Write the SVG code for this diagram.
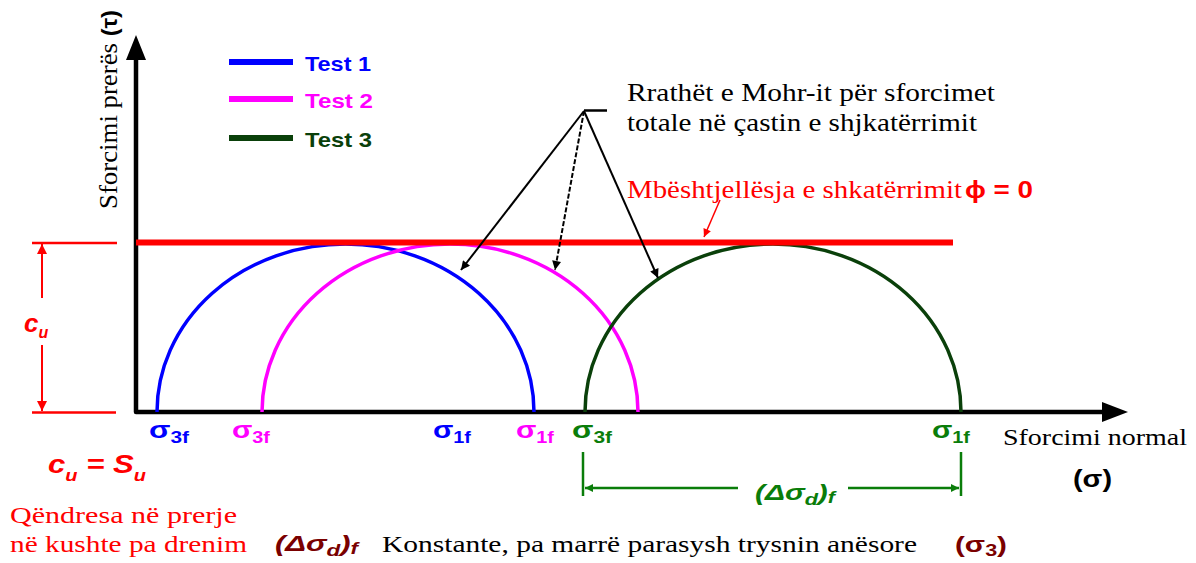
<svg xmlns="http://www.w3.org/2000/svg" width="1196" height="563" viewBox="0 0 1196 563">
<style>
text{font-family:"Liberation Sans",Arial,sans-serif;}
text.tm{font-family:"Liberation Serif","Times New Roman",serif;}
.ar{font-weight:bold;}
.it{font-style:italic;}
.red{fill:#ff0000;}
.blu{fill:#0000ff;}
.mag{fill:#ff00ff;}
.grn{fill:#0a7d0a;}
.dgr{fill:#0a400a;}
.drd{fill:#7a0000;}
.blk{fill:#000;}
.sub{font-size:16px;}
</style>
<defs>
<marker id="mb" viewBox="0 0 10 10" refX="10" refY="5" markerWidth="13" markerHeight="9" markerUnits="userSpaceOnUse" orient="auto"><path d="M0,0 L10,5 L0,10 z" fill="#000"/></marker>
<marker id="mr" viewBox="0 0 10 10" refX="10" refY="5" markerWidth="10" markerHeight="8" markerUnits="userSpaceOnUse" orient="auto"><path d="M0,0 L10,5 L0,10 z" fill="#ff0000"/></marker>
<marker id="mr2" viewBox="0 0 10 10" refX="10" refY="5" markerWidth="16" markerHeight="10" markerUnits="userSpaceOnUse" orient="auto"><path d="M0,0 L10,5 L0,10 z" fill="#ff0000"/></marker>
<marker id="mg" viewBox="0 0 10 10" refX="10" refY="5" markerWidth="12" markerHeight="8" markerUnits="userSpaceOnUse" orient="auto"><path d="M0,0 L10,5 L0,10 z" fill="#0a7d0a"/></marker>
</defs>
<rect width="1196" height="563" fill="#fff"/>

<g id="axes">
<path d="M136,58 L136,412 L1106,412" fill="none" stroke="#000" stroke-width="4.5" stroke-linejoin="round"/>
<polygon points="136,35 126,60 146,60" fill="#000"/>
<polygon points="1128,412 1102,402 1102,422" fill="#000"/>
<text class="tm blk" font-size="25" transform="translate(117,209) rotate(-90)" textLength="199" lengthAdjust="spacingAndGlyphs">Sforcimi prerës <tspan class="ar" style="font-family:'Liberation Sans',Arial,sans-serif" font-size="22">(τ)</tspan></text>
<text class="tm blk" x="1003" y="445" font-size="24" textLength="184" lengthAdjust="spacingAndGlyphs">Sforcimi normal</text>
<text class="ar blk" x="1073" y="487" font-size="24" textLength="39" lengthAdjust="spacingAndGlyphs">(σ)</text>
</g>

<g id="legend">
<line x1="229" y1="62" x2="293" y2="62" stroke="#0000ff" stroke-width="6"/>
<line x1="229" y1="99" x2="293" y2="99" stroke="#ff00ff" stroke-width="6"/>
<line x1="229" y1="138" x2="293" y2="138" stroke="#0a400a" stroke-width="6"/>
<text class="ar blu" x="305" y="71" font-size="21" textLength="66" lengthAdjust="spacingAndGlyphs">Test 1</text>
<text class="ar mag" x="305" y="108" font-size="21" textLength="68" lengthAdjust="spacingAndGlyphs">Test 2</text>
<text class="ar dgr" x="305" y="147" font-size="21" textLength="67" lengthAdjust="spacingAndGlyphs">Test 3</text>
</g>

<g id="circle-test1">
<path d="M157,412 A188.5,168 0 0 1 534,412" fill="none" stroke="#0000ff" stroke-width="3.5"/>
<text class="ar blu" x="149" y="438" font-size="24" textLength="40" lengthAdjust="spacingAndGlyphs">σ<tspan class="sub" dy="5">3f</tspan></text>
<text class="ar blu" x="433" y="438" font-size="24" textLength="38" lengthAdjust="spacingAndGlyphs">σ<tspan class="sub" dy="5">1f</tspan></text>
</g>

<g id="circle-test2">
<path d="M262,412 A188,168 0 0 1 638,412" fill="none" stroke="#ff00ff" stroke-width="3.5"/>
<text class="ar mag" x="232" y="438" font-size="24" textLength="38" lengthAdjust="spacingAndGlyphs">σ<tspan class="sub" dy="5">3f</tspan></text>
<text class="ar mag" x="516" y="438" font-size="24" textLength="38" lengthAdjust="spacingAndGlyphs">σ<tspan class="sub" dy="5">1f</tspan></text>
</g>

<g id="circle-test3">
<path d="M585,412 A188,168 0 0 1 961,412" fill="none" stroke="#0a400a" stroke-width="3.5"/>
<text class="ar grn" x="572" y="438" font-size="24" textLength="40" lengthAdjust="spacingAndGlyphs">σ<tspan class="sub" dy="5">3f</tspan></text>
<text class="ar grn" x="932" y="438" font-size="24" textLength="38" lengthAdjust="spacingAndGlyphs">σ<tspan class="sub" dy="5">1f</tspan></text>
</g>

<g id="envelope">
<line x1="136" y1="242.5" x2="953" y2="242.5" stroke="#ff0000" stroke-width="6"/>
<text class="tm red" x="627" y="198" font-size="25" textLength="335" lengthAdjust="spacingAndGlyphs">Mbështjellësja e shkatërrimit</text>
<text class="ar red" x="965" y="198" font-size="24" textLength="68" lengthAdjust="spacingAndGlyphs">ϕ = 0</text>
</g>

<g id="annotation">
<line x1="584" y1="110.5" x2="607" y2="110.5" stroke="#000" stroke-width="2.5"/>
<text class="tm blk" x="627" y="101" font-size="25" textLength="368" lengthAdjust="spacingAndGlyphs">Rrathët e Mohr-it për sforcimet</text>
<text class="tm blk" x="627" y="131" font-size="25" textLength="350" lengthAdjust="spacingAndGlyphs">totale në çastin e shjkatërrimit</text>
</g>

<g id="cu-dimension">
<line x1="32" y1="243" x2="117" y2="243" stroke="#ff0000" stroke-width="2.5"/>
<line x1="32" y1="412.5" x2="116" y2="412.5" stroke="#ff0000" stroke-width="2.5"/>
<text class="ar it red" x="24" y="332" font-size="26">c<tspan class="sub" dy="6">u</tspan></text>
</g>

<g id="delta-dimension">
<line x1="583" y1="452" x2="583" y2="496" stroke="#0a7d0a" stroke-width="2.5"/>
<line x1="961" y1="452" x2="961" y2="496" stroke="#0a7d0a" stroke-width="2.5"/>
<text class="ar it grn" x="755" y="500" font-size="22" textLength="80" lengthAdjust="spacingAndGlyphs">(Δσ<tspan class="sub" dy="5">d</tspan><tspan dy="-5">)</tspan><tspan class="sub" dy="3">f</tspan></text>
</g>

<g id="notes">
<text class="ar it red" x="48" y="473" font-size="25" textLength="98" lengthAdjust="spacingAndGlyphs">c<tspan class="sub" dy="8">u</tspan><tspan dy="-8"> = S</tspan><tspan class="sub" dy="8">u</tspan></text>
<text class="tm red" x="10" y="523" font-size="24" textLength="227" lengthAdjust="spacingAndGlyphs">Qëndresa në prerje</text>
<text class="tm red" x="10" y="552" font-size="24" textLength="237" lengthAdjust="spacingAndGlyphs">në kushte pa drenim</text>
<text class="ar it drd" x="275" y="551" font-size="22" textLength="83" lengthAdjust="spacingAndGlyphs">(Δσ<tspan class="sub" dy="5">d</tspan><tspan dy="-5">)</tspan><tspan class="sub" dy="3">f</tspan></text>
<text class="tm blk" x="382" y="552" font-size="24" textLength="535" lengthAdjust="spacingAndGlyphs">Konstante, pa marrë parasysh trysnin anësore</text>
<text class="ar drd" x="955" y="552" font-size="22" textLength="52" lengthAdjust="spacingAndGlyphs">(σ<tspan class="sub" dy="4">3</tspan><tspan dy="-4">)</tspan></text>
</g>

<g id="connectors" fill="none">
<line x1="584" y1="111" x2="461" y2="270" stroke="#000" stroke-width="2" marker-end="url(#mb)"/>
<line x1="584" y1="111" x2="555" y2="270" stroke="#000" stroke-width="2" stroke-dasharray="5 2" marker-end="url(#mb)"/>
<line x1="584" y1="111" x2="658" y2="278" stroke="#000" stroke-width="2" marker-end="url(#mb)"/>
<line x1="720" y1="200" x2="704" y2="237" stroke="#ff0000" stroke-width="1.5" marker-end="url(#mr)"/>
<line x1="42" y1="298" x2="42" y2="244" stroke="#ff0000" stroke-width="2" marker-end="url(#mr2)"/>
<line x1="42" y1="345" x2="42" y2="411" stroke="#ff0000" stroke-width="2" marker-end="url(#mr2)"/>
<line x1="738" y1="488" x2="585" y2="488" stroke="#0a7d0a" stroke-width="2.5" marker-end="url(#mg)"/>
<line x1="848" y1="488" x2="959" y2="488" stroke="#0a7d0a" stroke-width="2.5" marker-end="url(#mg)"/>
</g>
</svg>
